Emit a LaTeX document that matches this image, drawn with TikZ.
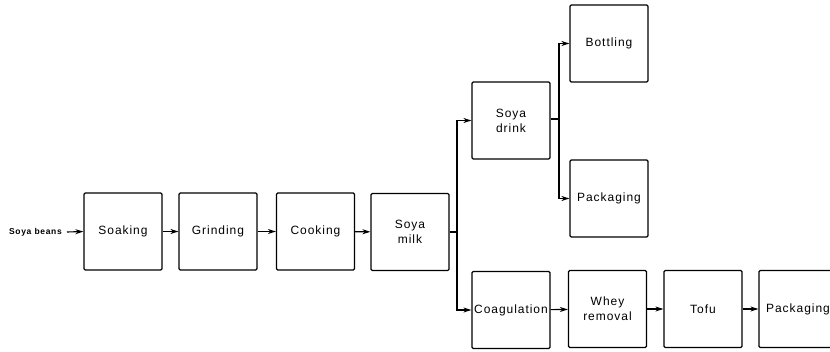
\documentclass[tikz,border=0pt]{standalone}
\usepackage{fontspec}
\setmainfont{Liberation Sans}[LetterSpace=8]
\usetikzlibrary{arrows.meta}
\begin{document}
\begin{tikzpicture}[x=1pt,y=-1pt,
  box/.style={draw,line width=1.2pt,rounded corners=1.2pt,minimum width=78pt,minimum height=77pt,inner sep=0pt,align=center,font=\fontsize{12}{15}\selectfont,text=black},
  link/.style={line width=1.1pt,-{Stealth[length=8pt,width=5pt]}},
  plain/.style={line width=1.1pt}]
\useasboundingbox (0,0) rectangle (830,351);
\node[box] (soak) at (123,231.5) {Soaking};
\node[box] (grind) at (218,231.5) {Grinding};
\node[box] (cook) at (315.5,231.5) {Cooking};
\node[box] (milk) at (410,232) {Soya\\milk};
\node[box] (drink) at (511,120.5) {Soya\\drink};
\node[box] (coag) at (511,310) {Coagulation};
\node[box] (bott) at (609,43.5) {Bottling};
\node[box] (pack1) at (609,198.5) {Packaging};
\node[box] (whey) at (607.5,309) {Whey\\removal};
\node[box] (tofu) at (703,309) {Tofu};
\node[box] (pack2) at (798,309) {Packaging};
\node[font=\fontsize{8.5}{10}\selectfont\bfseries,anchor=east,inner sep=0pt] (beans) at (62,232) {Soya beans};
\draw[link] (beans.east) ++(5,0) -- (soak.west);
\draw[link] (soak) -- (grind);
\draw[link] (grind) -- (cook);
\draw[link] (cook) -- (milk);
\coordinate (j1) at (457,232);
\draw[plain] (milk.east) -- (j1);
\draw[link] (j1) |- (drink.west);
\draw[link] (j1) |- (coag.west);
\coordinate (j2) at (559,119);
\draw[plain] (drink.east |- j2) -- (j2);
\draw[link] (j2) |- (bott.west);
\draw[link] (j2) |- (pack1.west);
\draw[link] (coag) -- (whey);
\draw[link] (whey) -- (tofu);
\draw[link] (tofu) -- (pack2);
\end{tikzpicture}
\end{document}
